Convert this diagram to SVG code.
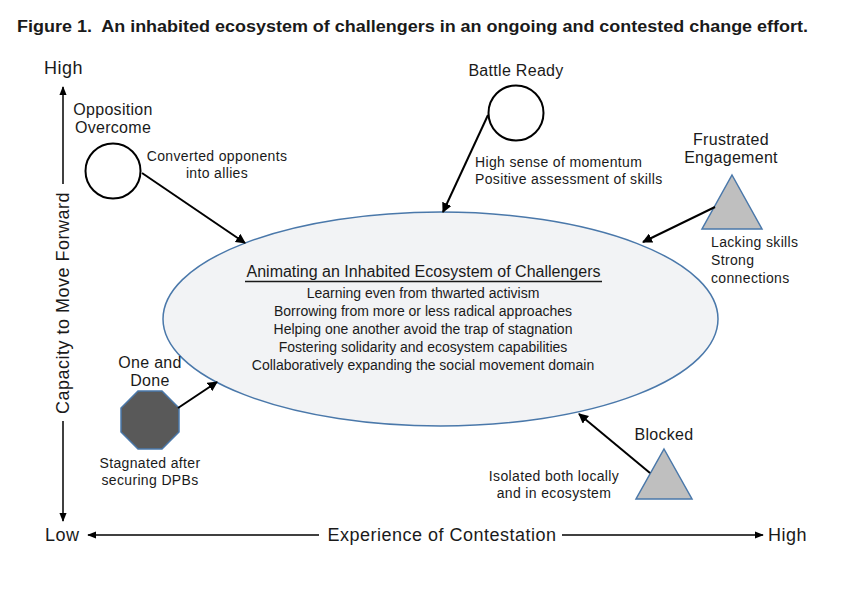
<svg xmlns="http://www.w3.org/2000/svg" width="867" height="590" viewBox="0 0 867 590">
<defs>
<style>
text{font-family:"Liberation Sans",Arial,sans-serif;fill:#1a1a1a}
.title{font-weight:bold;font-size:16px}
.axis{font-size:18px;letter-spacing:0.5px}
.lbl{font-size:16px;text-anchor:middle;letter-spacing:0.3px}
.desc{font-size:14px;letter-spacing:0.35px}
.inner{font-size:14px;text-anchor:middle}
.mid{text-anchor:middle}
.conn{stroke:#000;stroke-width:2;fill:none;marker-end:url(#ah)}
.ax{stroke:#000;stroke-width:1.5;fill:none}
.shape{stroke:#4a78aa;stroke-width:1.5}
</style>
<marker id="ah" viewBox="0 0 10 10" refX="9" refY="5" markerWidth="5" markerHeight="5" orient="auto"><path d="M0,0 L10,5 L0,10 z" fill="#000"/></marker>
<marker id="axh" viewBox="0 0 10 10" refX="9" refY="5" markerWidth="6" markerHeight="6" orient="auto"><path d="M0,1 L10,5 L0,9 z" fill="#000"/></marker>
</defs>
<rect width="867" height="590" fill="#fff"/>
<text class="title" x="17" y="32" textLength="791" lengthAdjust="spacingAndGlyphs" xml:space="preserve">Figure 1.  An inhabited ecosystem of challengers in an ongoing and contested change effort.</text>

<g id="axes">
<text class="axis" x="44" y="74">High</text>
<text class="axis" x="45" y="541">Low</text>
<text class="axis" x="768" y="541">High</text>
<line class="ax" x1="63" y1="184" x2="63" y2="87" marker-end="url(#axh)"/>
<line class="ax" x1="63" y1="421" x2="63" y2="521" marker-end="url(#axh)"/>
<text class="axis mid" transform="translate(69,303) rotate(-90)">Capacity to Move Forward</text>
<line class="ax" x1="319" y1="535" x2="88" y2="535" marker-end="url(#axh)"/>
<line class="ax" x1="562" y1="535" x2="763" y2="535" marker-end="url(#axh)"/>
<text class="axis mid" x="442" y="541">Experience of Contestation</text>
</g>

<g id="ecosystem">
<ellipse cx="440.5" cy="319" rx="277.5" ry="107" fill="#f2f3f5" class="shape"/>
<text class="lbl" x="423.5" y="277" style="letter-spacing:0">Animating an Inhabited Ecosystem of Challengers</text>
<line x1="245" y1="281.5" x2="602" y2="281.5" stroke="#1a1a1a" stroke-width="1.3"/>
<text class="inner" x="423" y="298">Learning even from thwarted activism</text>
<text class="inner" x="423" y="316">Borrowing from more or less radical approaches</text>
<text class="inner" x="423" y="334">Helping one another avoid the trap of stagnation</text>
<text class="inner" x="423" y="352">Fostering solidarity and ecosystem capabilities</text>
<text class="inner" x="423" y="370">Collaboratively expanding the social movement domain</text>
</g>

<g id="opposition-overcome">
<circle cx="113" cy="171" r="27.5" fill="#fff" stroke="#000" stroke-width="2"/>
<text class="lbl" x="113" y="115">Opposition</text>
<text class="lbl" x="113" y="133">Overcome</text>
<text class="desc mid" x="217" y="161">Converted opponents</text>
<text class="desc mid" x="217" y="178">into allies</text>
</g>

<g id="battle-ready">
<circle cx="516" cy="113" r="27.5" fill="#fff" stroke="#000" stroke-width="2"/>
<text class="lbl" x="516" y="76">Battle Ready</text>
<text class="desc" x="475" y="167">High sense of momentum</text>
<text class="desc" x="475" y="184">Positive assessment of skills</text>
</g>

<g id="frustrated-engagement">
<polygon points="732,175 762,229 702,229" fill="#bfbfbf" class="shape"/>
<text class="lbl" x="731" y="145">Frustrated</text>
<text class="lbl" x="731" y="163">Engagement</text>
<text class="desc" x="711" y="247">Lacking skills</text>
<text class="desc" x="711" y="265">Strong</text>
<text class="desc" x="711" y="283">connections</text>
</g>

<g id="one-and-done">
<polygon points="138,391 162,391 179,408 179,432 162,449 138,449 121,432 121,408" fill="#595959" class="shape"/>
<text class="lbl" x="150" y="368">One and</text>
<text class="lbl" x="150" y="386">Done</text>
<text class="desc mid" x="150" y="468">Stagnated after</text>
<text class="desc mid" x="150" y="485">securing DPBs</text>
</g>

<g id="blocked">
<polygon points="664,449 692,499 636,499" fill="#bfbfbf" class="shape"/>
<text class="lbl" x="664" y="440">Blocked</text>
<text class="desc mid" x="554" y="481">Isolated both locally</text>
<text class="desc mid" x="554" y="498">and in ecosystem</text>
</g>

<g id="connectors">
<line class="conn" x1="142" y1="173" x2="245" y2="243"/>
<line class="conn" x1="488" y1="115" x2="443" y2="212"/>
<line class="conn" x1="715" y1="207" x2="643" y2="242"/>
<line class="conn" x1="178" y1="408" x2="217" y2="382"/>
<line class="conn" x1="650" y1="473" x2="579" y2="414"/>
</g>
</svg>
